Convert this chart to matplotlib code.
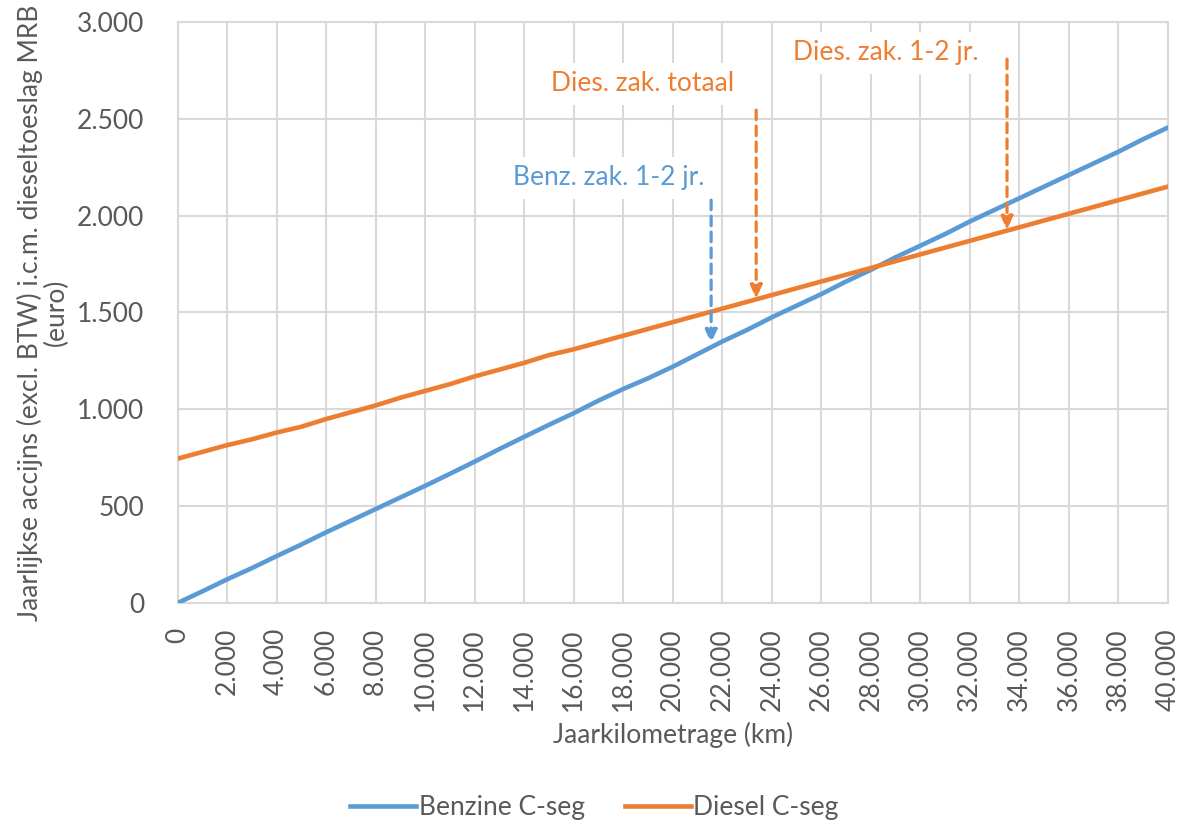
import matplotlib
matplotlib.use("Agg")
import matplotlib.pyplot as plt
from matplotlib.ticker import FuncFormatter

plt.rcParams['font.family'] = ['Lato', 'DejaVu Sans']

km = list(range(0, 40001, 1000))
benzine = [0, 60, 122, 180, 242, 302, 365, 425, 485, 545,
           605, 667, 730, 795, 858, 920, 980, 1045, 1105, 1160,
           1220, 1285, 1350, 1410, 1475, 1535, 1595, 1660, 1720, 1785,
           1845, 1905, 1970, 2030, 2090, 2150, 2210, 2270, 2330, 2395, 2455]
diesel = [745, 780, 815, 845, 880, 910, 950, 985, 1020, 1060,
          1095, 1130, 1170, 1205, 1240, 1280, 1310, 1345, 1380, 1415,
          1450, 1485, 1520, 1555, 1590, 1625, 1660, 1695, 1730, 1765,
          1800, 1835, 1870, 1905, 1940, 1975, 2010, 2045, 2080, 2115, 2150]

# annotations: label, text pos, arrow x, arrow start y, arrow end y, colour
blue = '#5B9BD5'
orange = '#ED7D31'
notes = [
    ("Benz. zak. 1-2 jr.", (17400, 2195), 21550, 2080, 1340, blue),
    ("Dies. zak. totaal", (18800, 2680), 23370, 2545, 1570, orange),
    ("Dies. zak. 1-2 jr.", (28600, 2840), 33500, 2808, 1925, orange),
]

grey = '#595959'
grid = '#D9D9D9'
fs = 19

fig = plt.figure(figsize=(11.89, 8.23), dpi=100)
ax = fig.add_axes([0.1493, 0.2673, 0.833, 0.706])

ax.plot(km, benzine, color=blue, lw=3.3, label='Benzine C-seg', zorder=3)
ax.plot(km, diesel, color=orange, lw=3.3, label='Diesel C-seg', zorder=3)

ax.set_xlim(0, 40000)
ax.set_ylim(0, 3000)
ax.set_xticks(range(0, 40001, 2000))
ax.set_yticks(range(0, 3001, 500))
fmt = FuncFormatter(lambda v, p: f"{int(v):,}".replace(",", "."))
ax.xaxis.set_major_formatter(fmt)
ax.yaxis.set_major_formatter(fmt)
ax.grid(True, color=grid, lw=1.5, zorder=0)
for s in ax.spines.values():
    s.set_color(grid)
    s.set_linewidth(1.5)
ax.tick_params(length=0, labelsize=fs, colors=grey)
ax.tick_params(axis='y', pad=24)
ax.tick_params(axis='x', labelrotation=90, pad=18)
for lab in ax.get_xticklabels():
    lab.set_va('top')
for lab in ax.get_yticklabels():
    lab.set_ha('right')

ax.set_xlabel("Jaarkilometrage (km)", fontsize=fs, color=grey, labelpad=8)
ax.set_ylabel("Jaarlijkse accijns (excl. BTW) i.c.m. dieseltoeslag MRB\n(euro)",
              fontsize=fs, color=grey, labelpad=6, linespacing=1.0)

for text, (tx, ty), axx, y0, y1, c in notes:
    ax.text(tx, ty, text, color=c, fontsize=fs, ha='center', va='center',
            bbox=dict(facecolor='white', edgecolor='none', pad=6), zorder=4)
    ax.annotate("", xy=(axx, y1), xytext=(axx, y0),
                arrowprops=dict(arrowstyle='-|>,head_length=0.8,head_width=0.35',
                                color=c, lw=2.3, linestyle=(0, (3, 2)),
                                shrinkA=0, shrinkB=0), zorder=5)

leg = fig.legend(loc='lower center', bbox_to_anchor=(0.5, -0.025), ncol=2,
                 frameon=False, fontsize=fs, handlelength=2.5, columnspacing=1.5,
                 handletextpad=0.1)
for t in leg.get_texts():
    t.set_color(grey)

fig.savefig("out.png", dpi=100)
